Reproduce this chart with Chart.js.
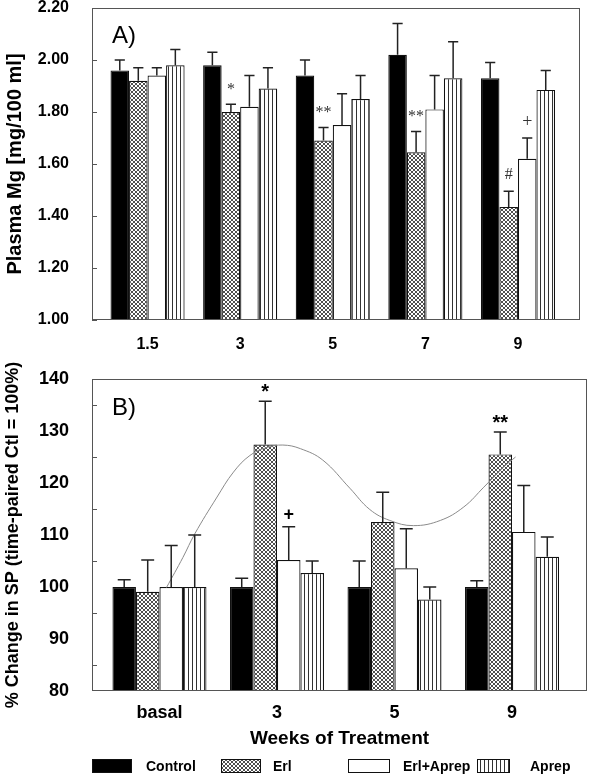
<!DOCTYPE html>
<html>
<head>
<meta charset="utf-8">
<script src="https://cdn.jsdelivr.net/npm/chart.js@4/dist/chart.umd.min.js"></script>
<style>
  html, body { margin: 0; padding: 0; background: #fff; }
  #wrap { position: relative; width: 591px; height: 780px; }
  canvas { position: absolute; left: 0; }
  #chartA { top: 0; }
  #chartB { top: 350px; }
</style>
</head>
<body>
<div id="wrap">
  <canvas id="chartA" width="591" height="365"></canvas>
  <canvas id="chartB" width="591" height="430"></canvas>
</div>
<script>
// -------------------------------
// Data
// -------------------------------
const groups = ['Control', 'Erl', 'Erl+Aprep', 'Aprep'];

// A) plasma Mg, mg/100 ml
const weeksA = ['1.5', '3', '5', '7', '9'];
const ctlA = [1.96, 1.98, 1.94, 2.02, 1.93];
const ctlAErr = [0.04, 0.05, 0.06, 0.12, 0.06];
const erlA = [1.92, 1.80, 1.69, 1.645, 1.435];
const erlAErr = [0.05, 0.03, 0.05, 0.08, 0.06];
const erlAprepA = [1.94, 1.82, 1.75, 1.81, 1.62];
const erlAprepAErr = [0.03, 0.12, 0.12, 0.13, 0.08];
const aprepA = [1.98, 1.89, 1.85, 1.93, 1.885];
const aprepAErr = [0.06, 0.08, 0.09, 0.14, 0.075];
const yTicksA = [1.0, 1.2, 1.4, 1.6, 1.8, 2.0, 2.2];
// [dataset, week index, mark]
const marksA = [[1, 1, '*'], [1, 2, '**'], [1, 3, '**'], [1, 4, '#'], [2, 4, '+']];

// B) % change in SP (time-paired Ctl = 100%)
const weeksB = ['basal', '3', '5', '9'];
const ctlB = [100, 100, 100, 100];
const ctlBErr = [1.4, 1.7, 5.0, 1.2];
const erlB = [99.1, 127.4, 112.5, 125.5];
const erlBErr = [6.1, 8.3, 5.7, 4.3];
const erlAprepB = [100, 105.2, 103.6, 110.6];
const erlAprepBErr = [8.0, 6.4, 7.6, 8.9];
const aprepB = [100, 102.7, 97.6, 105.8];
const aprepBErr = [10.0, 2.3, 2.4, 3.8];
const marksB = [[1, 1, '*'], [2, 1, '+'], [1, 3, '**']];
// smooth trend line (x in week-slot units)
const trendX = [0.06, 0.20, 0.30, 0.49, 0.63, 0.77, 0.91, 1.05, 1.20, 1.39, 1.62, 1.79, 1.96, 2.16, 2.39, 2.59, 2.76, 2.93, 3.03];
const trendY = [99.9, 105.7, 110.2, 117.3, 122.1, 125.3, 126.8, 127.3, 126.6, 124.4, 119.0, 114.9, 112.8, 111.8, 112.8, 115.4, 119.2, 123.1, 125.0];

// -------------------------------
// Fills
// -------------------------------
const makePattern = kind => {
  const c = document.createElement('canvas');
  c.width = 4; c.height = 4;
  const g = c.getContext('2d');
  g.fillStyle = '#fff';
  g.fillRect(0, 0, 4, 4);
  if (kind === 'cross') {
    g.strokeStyle = '#222';
    g.lineWidth = 0.8;
    g.beginPath();
    g.moveTo(0, 0); g.lineTo(4, 4);
    g.moveTo(4, 0); g.lineTo(0, 4);
    g.stroke();
  } else {
    g.fillStyle = '#333';
    g.fillRect(0, 0, 1, 4);
  }
  return g.createPattern(c, 'repeat');
};
const fills = ['#000', makePattern('cross'), '#fff', makePattern('vert')];

Chart.defaults.font.family = "'Liberation Sans', Arial, sans-serif";
Chart.defaults.color = '#000';

// -------------------------------
// Extras: frame, inner ticks, error bars, marks, legend
// -------------------------------
const extras = {
  id: 'extras',
  afterDatasetsDraw(chart, args, o) {
    const ctx = chart.ctx;
    const a = chart.chartArea;
    const ys = chart.scales.y;
    ctx.save();

    // frame
    ctx.strokeStyle = '#555';
    ctx.lineWidth = 1;
    ctx.strokeRect(a.left + 0.5, a.top + 0.5, a.right - a.left - 1, a.bottom - a.top - 1);

    // inward ticks
    ys.ticks.forEach(t => {
      if (!o.tickAt(t.value)) return;
      const py = Math.round(ys.getPixelForValue(t.value)) + 0.5;
      ctx.beginPath();
      ctx.moveTo(a.left, py);
      ctx.lineTo(a.left + 5, py);
      ctx.stroke();
    });

    // error bars (upper only)
    ctx.strokeStyle = '#222';
    ctx.lineWidth = 1.5;
    chart.data.datasets.forEach((ds, d) => {
      if (!ds.errors) return;
      chart.getDatasetMeta(d).data.forEach((bar, i) => {
        const top = ys.getPixelForValue(ds.data[i].y + ds.errors[i]);
        const cap = bar.width * o.cap / 2;
        ctx.beginPath();
        ctx.moveTo(bar.x, bar.y);
        ctx.lineTo(bar.x, top);
        ctx.moveTo(bar.x - cap, top);
        ctx.lineTo(bar.x + cap, top);
        ctx.stroke();
      });
    });

    // significance marks
    ctx.fillStyle = o.markColor;
    ctx.textAlign = 'center';
    ctx.textBaseline = 'alphabetic';
    o.marks.forEach(([d, i, txt]) => {
      const ds = chart.data.datasets[d];
      const bar = chart.getDatasetMeta(d).data[i];
      const top = ys.getPixelForValue(ds.data[i].y + ds.errors[i]);
      ctx.font = txt === '+' ? o.plusFont : o.markFont;
      const m = ctx.measureText(txt);
      const cy = top - o.markGap;
      ctx.fillText(txt, bar.x, cy + (m.actualBoundingBoxAscent - m.actualBoundingBoxDescent) / 2);
    });

    // panel label
    ctx.fillStyle = '#000';
    ctx.textAlign = 'left';
    ctx.font = "24px 'Liberation Sans', Arial, sans-serif";
    ctx.fillText(o.panel, a.left + 20, a.top + o.panelDy);

    // legend
    if (o.legend) {
      const L = o.legend;
      ctx.font = "bold 14px 'Liberation Sans', Arial, sans-serif";
      ctx.textBaseline = 'middle';
      chart.data.datasets.forEach((ds, d) => {
        if (ds.type === 'line') return;
        ctx.fillStyle = ds.backgroundColor;
        ctx.fillRect(L.x[d], L.y, L.w[d], L.h);
        ctx.strokeStyle = '#111';
        ctx.lineWidth = 1;
        ctx.strokeRect(L.x[d] + 0.5, L.y + 0.5, L.w[d] - 1, L.h - 1);
        ctx.fillStyle = '#000';
        ctx.fillText(ds.label, L.tx[d], L.y + L.h / 2 + 1);
      });
    }
    ctx.restore();
  }
};

const barSet = (label, vals, errs, d) => ({
  type: 'bar',
  label: label,
  data: vals.map((v, i) => ({ x: i, y: v })),
  errors: errs,
  backgroundColor: fills[d],
  borderColor: '#111',
  borderWidth: 1.2,
  categoryPercentage: 0.8,
  barPercentage: 1.0
});

const xAxis = (labels, min, max, size, pad, h, title) => ({
  type: 'linear',
  min: min,
  max: max,
  offset: false,
  grid: { display: false, offset: false },
  border: { display: false },
  afterBuildTicks: s => { s.ticks = labels.map((_, i) => ({ value: i })); },
  ticks: { callback: v => labels[v], font: { size: size, weight: 'bold' }, padding: pad, autoSkip: false, maxRotation: 0 },
  title: title,
  afterFit: s => { s.height = h; s.paddingLeft = 0; s.paddingRight = 0; }
});

// -------------------------------
// Panel A
// -------------------------------
new Chart(document.getElementById('chartA'), {
  data: {
    datasets: [
      barSet(groups[0], ctlA, ctlAErr, 0),
      barSet(groups[1], erlA, erlAErr, 1),
      barSet(groups[2], erlAprepA, erlAprepAErr, 2),
      barSet(groups[3], aprepA, aprepAErr, 3)
    ]
  },
  plugins: [extras],
  options: {
    responsive: false,
    animation: false,
    layout: { padding: { top: 8, right: 11, left: 0, bottom: 0 } },
    scales: {
      x: xAxis(weeksA, -0.6, 4.67, 16, 7, 45, { display: false }),
      y: {
        min: 1.0,
        max: 2.2,
        grid: { display: false },
        border: { display: false },
        afterBuildTicks: s => { s.ticks = yTicksA.map(v => ({ value: v })); },
        ticks: { callback: v => v.toFixed(2), font: { size: 16, weight: 'bold' }, padding: 15, autoSkip: false },
        title: { display: true, text: 'Plasma Mg [mg/100 ml]', font: { size: 20, weight: 'bold' }, padding: { top: 3, bottom: 0 } },
        afterFit: s => { s.width = 92; s.paddingTop = 0; s.paddingBottom = 0; }
      }
    },
    plugins: {
      legend: { display: false },
      tooltip: { enabled: false },
      extras: {
        tickAt: () => true,
        cap: 0.55,
        marks: marksA,
        markGap: 18,
        markColor: '#333',
        markFont: "16px 'Liberation Serif', serif",
        plusFont: "18px 'Liberation Serif', serif",
        panel: 'A)',
        panelDy: 35
      }
    }
  }
});

// -------------------------------
// Panel B
// -------------------------------
new Chart(document.getElementById('chartB'), {
  data: {
    datasets: [
      barSet(groups[0], ctlB, ctlBErr, 0),
      barSet(groups[1], erlB, erlBErr, 1),
      barSet(groups[2], erlAprepB, erlAprepBErr, 2),
      barSet(groups[3], aprepB, aprepBErr, 3),
      {
        type: 'line',
        label: 'trend',
        data: trendX.map((x, i) => ({ x: x, y: trendY[i] })),
        borderColor: '#8a8a8a',
        borderWidth: 1,
        pointRadius: 0,
        tension: 0.4,
        order: -1
      }
    ]
  },
  plugins: [extras],
  options: {
    responsive: false,
    animation: false,
    layout: { padding: { top: 29, right: 4, left: 0, bottom: 30 } },
    scales: {
      x: xAxis(weeksB, -0.574, 3.638, 18, 3, 59, {
        display: true, text: 'Weeks of Treatment', font: { size: 19, weight: 'bold' }, padding: { top: 0, bottom: 0 }
      }),
      y: {
        min: 80,
        max: 140,
        grid: { display: false },
        border: { display: false },
        ticks: { stepSize: 5, callback: v => (v % 10 === 0 ? v : ''), font: { size: 18, weight: 'bold' }, padding: 15, autoSkip: false },
        title: { display: true, text: '% Change in SP (time-paired Ctl = 100%)', font: { size: 18, weight: 'bold' }, padding: { top: 2, bottom: 0 } },
        afterFit: s => { s.width = 92; s.paddingTop = 0; s.paddingBottom = 0; }
      }
    },
    plugins: {
      legend: { display: false },
      tooltip: { enabled: false },
      extras: {
        tickAt: v => v % 10 !== 0,
        cap: 0.55,
        marks: marksB,
        markGap: 13,
        markColor: '#000',
        markFont: "bold 20px 'Liberation Sans', Arial, sans-serif",
        plusFont: "bold 18px 'Liberation Sans', Arial, sans-serif",
        panel: 'B)',
        panelDy: 36,
        legend: {
          x: [92, 221, 348, 477],
          w: [40, 40, 42, 33],
          tx: [146, 273, 403, 530],
          y: 409,
          h: 14
        }
      }
    }
  }
});
</script>
</body>
</html>
